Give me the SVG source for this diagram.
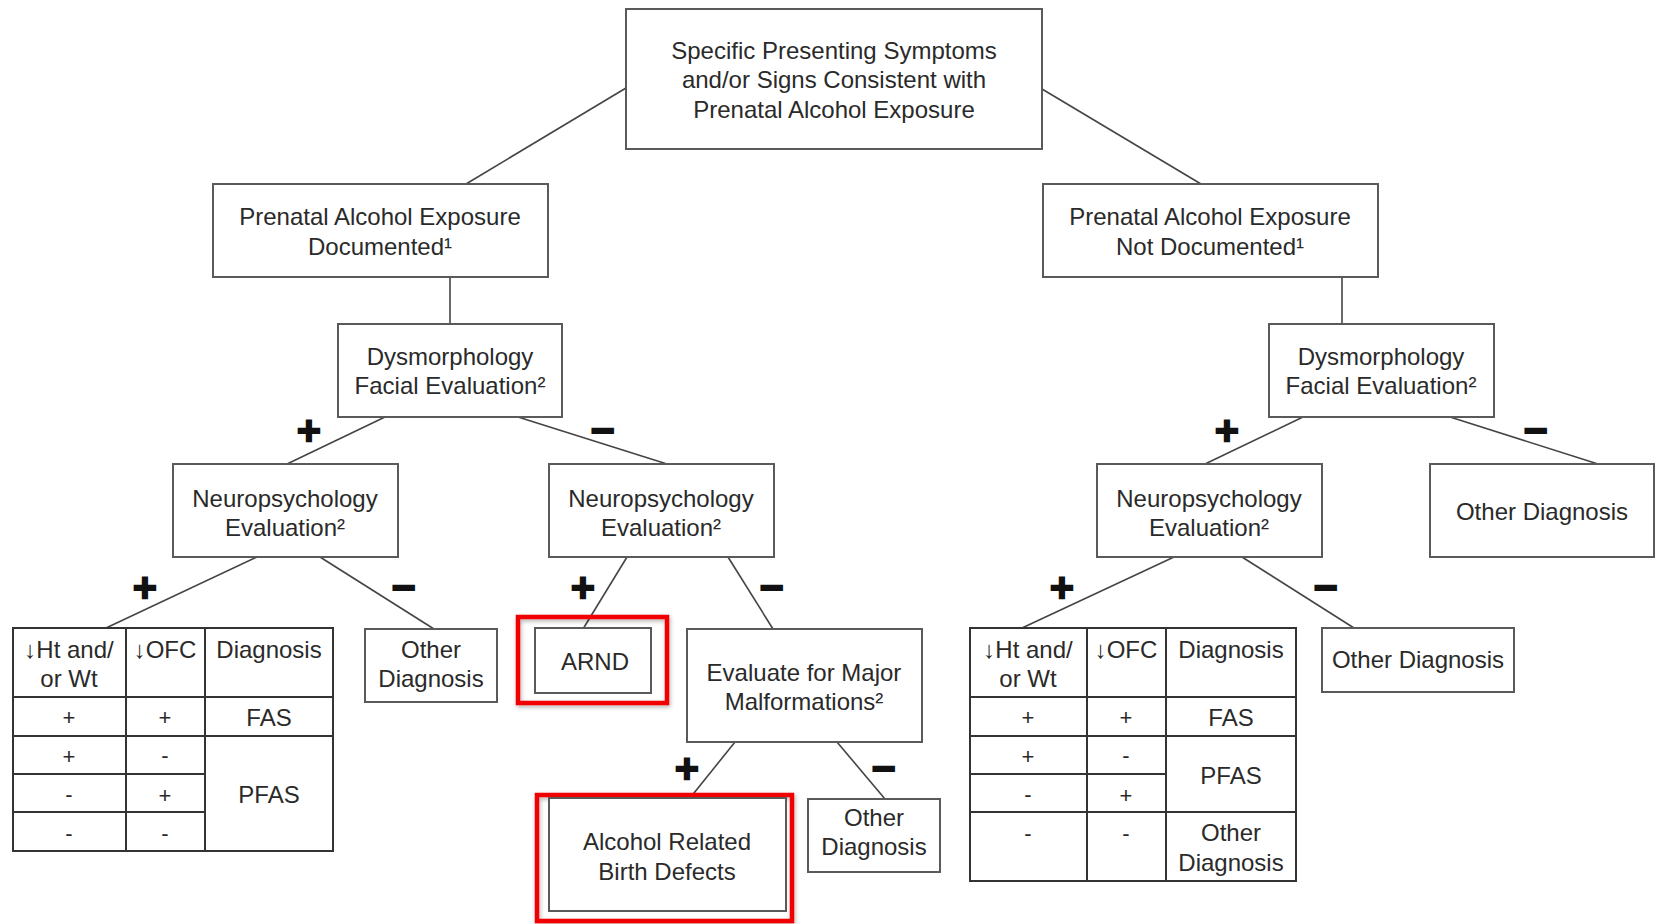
<svg xmlns="http://www.w3.org/2000/svg" width="1659" height="924" viewBox="0 0 1659 924">
  <defs>
    <style>
      .box { fill: #fff; stroke: #5a5a5a; stroke-width: 2; }
      .hl { fill: none; stroke: #f00000; stroke-width: 4.5; }
      .tbl { fill: none; stroke: #333; stroke-width: 2; }
      .t { font-family: "Liberation Sans", Arial, sans-serif; font-size: 24px; fill: #2a2a2a; text-anchor: middle; }
      .c { font-family: "Liberation Sans", Arial, sans-serif; font-size: 22px; fill: #2a2a2a; text-anchor: middle; }
      .sign { font-family: "DejaVu Sans", "Liberation Sans", sans-serif; font-weight: bold; font-size: 32px; fill: #111; stroke: #111; stroke-width: 2.5; text-anchor: middle; }
      .conn line { stroke: #444; stroke-width: 1.6; }
    </style>
    <filter id="shadow" x="-10%" y="-10%" width="120%" height="130%">
      <feDropShadow dx="1" dy="2" stdDeviation="2" flood-color="#000" flood-opacity="0.3"/>
    </filter>
  </defs>

  <rect width="1659" height="924" fill="#fff"/>

  <!-- connectors -->
  <g id="connectors" class="conn">
    <line x1="626" y1="88" x2="466" y2="184"/>
    <line x1="1042" y1="89" x2="1201" y2="184"/>
    <line x1="450" y1="277" x2="450" y2="324"/>
    <line x1="1342" y1="277" x2="1342" y2="324"/>
    <line x1="385" y1="417" x2="287" y2="464"/>
    <line x1="518" y1="417" x2="667" y2="464"/>
    <line x1="1303" y1="417" x2="1205" y2="464"/>
    <line x1="1450" y1="417" x2="1598" y2="464"/>
    <line x1="257" y1="557" x2="106" y2="628"/>
    <line x1="320" y1="557" x2="434" y2="629"/>
    <line x1="627" y1="557" x2="583" y2="629"/>
    <line x1="728" y1="557" x2="773" y2="629"/>
    <line x1="735" y1="742" x2="690" y2="798"/>
    <line x1="837" y1="742" x2="885" y2="799"/>
    <line x1="1174" y1="557" x2="1022" y2="628"/>
    <line x1="1242" y1="557" x2="1354" y2="628"/>
  </g>

  <!-- branch signs -->
  <g id="signs">
    <text class="sign" x="309" y="441">+</text>
    <text class="sign" x="603" y="441">−</text>
    <text class="sign" x="1227" y="441">+</text>
    <text class="sign" x="1536" y="441">−</text>
    <text class="sign" x="145" y="598">+</text>
    <text class="sign" x="404" y="598">−</text>
    <text class="sign" x="583" y="598">+</text>
    <text class="sign" x="772" y="598">−</text>
    <text class="sign" x="687" y="779">+</text>
    <text class="sign" x="884" y="779">−</text>
    <text class="sign" x="1062" y="598">+</text>
    <text class="sign" x="1326" y="598">−</text>
  </g>

  <g id="start">
    <rect class="box" x="626" y="9" width="416" height="140"/>
    <text class="t" x="834" y="59">Specific Presenting Symptoms</text>
    <text class="t" x="834" y="88">and/or Signs Consistent with</text>
    <text class="t" x="834" y="118">Prenatal Alcohol Exposure</text>
  </g>

  <g id="pae-documented">
    <rect class="box" x="213" y="184" width="335" height="93"/>
    <text class="t" x="380" y="225">Prenatal Alcohol Exposure</text>
    <text class="t" x="380" y="255">Documented¹</text>
  </g>

  <g id="pae-not-documented">
    <rect class="box" x="1043" y="184" width="335" height="93"/>
    <text class="t" x="1210" y="225">Prenatal Alcohol Exposure</text>
    <text class="t" x="1210" y="255">Not Documented¹</text>
  </g>

  <g id="dysmorph-left">
    <rect class="box" x="338" y="324" width="224" height="93"/>
    <text class="t" x="450" y="365">Dysmorphology</text>
    <text class="t" x="450" y="394">Facial Evaluation²</text>
  </g>

  <g id="dysmorph-right">
    <rect class="box" x="1269" y="324" width="225" height="93"/>
    <text class="t" x="1381" y="365">Dysmorphology</text>
    <text class="t" x="1381" y="394">Facial Evaluation²</text>
  </g>

  <g id="neuro-left">
    <rect class="box" x="173" y="464" width="225" height="93"/>
    <text class="t" x="285" y="507">Neuropsychology</text>
    <text class="t" x="285" y="536">Evaluation²</text>
  </g>

  <g id="neuro-mid">
    <rect class="box" x="549" y="464" width="225" height="93"/>
    <text class="t" x="661" y="507">Neuropsychology</text>
    <text class="t" x="661" y="536">Evaluation²</text>
  </g>

  <g id="neuro-right">
    <rect class="box" x="1097" y="464" width="225" height="93"/>
    <text class="t" x="1209" y="507">Neuropsychology</text>
    <text class="t" x="1209" y="536">Evaluation²</text>
  </g>

  <g id="other-top-right">
    <rect class="box" x="1430" y="464" width="224" height="93"/>
    <text class="t" x="1542" y="520">Other Diagnosis</text>
  </g>

  <!-- growth / OFC table, documented branch -->
  <g id="table-left">
    <rect class="tbl" x="13" y="628" width="320" height="223"/>
    <line class="tbl" x1="126" y1="628" x2="126" y2="851"/>
    <line class="tbl" x1="205" y1="628" x2="205" y2="851"/>
    <line class="tbl" x1="13" y1="697" x2="333" y2="697"/>
    <line class="tbl" x1="13" y1="736" x2="333" y2="736"/>
    <line class="tbl" x1="13" y1="774" x2="205" y2="774"/>
    <line class="tbl" x1="13" y1="812" x2="205" y2="812"/>
    <text class="t" x="69" y="658">↓Ht and/</text>
    <text class="t" x="69" y="687">or Wt</text>
    <text class="t" x="165" y="658">↓OFC</text>
    <text class="t" x="269" y="658">Diagnosis</text>
    <text class="c" x="69" y="725">+</text>
    <text class="c" x="165" y="725">+</text>
    <text class="t" x="269" y="726">FAS</text>
    <text class="c" x="69" y="764">+</text>
    <text class="c" x="165" y="763">-</text>
    <text class="c" x="69" y="802">-</text>
    <text class="c" x="165" y="803">+</text>
    <text class="c" x="69" y="841">-</text>
    <text class="c" x="165" y="841">-</text>
    <text class="t" x="269" y="803">PFAS</text>
  </g>

  <g id="other-left">
    <rect class="box" x="365" y="629" width="132" height="73"/>
    <text class="t" x="431" y="658">Other</text>
    <text class="t" x="431" y="687">Diagnosis</text>
  </g>

  <g id="arnd">
    <rect class="hl" x="518" y="617" width="149" height="86" filter="url(#shadow)"/>
    <rect class="box" x="535" y="628" width="116" height="65"/>
    <text class="t" x="595" y="670">ARND</text>
  </g>

  <g id="evaluate">
    <rect class="box" x="687" y="629" width="235" height="113"/>
    <text class="t" x="804" y="681">Evaluate for Major</text>
    <text class="t" x="804" y="710">Malformations²</text>
  </g>

  <g id="arbd">
    <rect class="hl" x="537" y="795" width="255" height="126" filter="url(#shadow)"/>
    <rect class="box" x="549" y="798" width="237" height="113" stroke-width="2.5"/>
    <text class="t" x="667" y="850">Alcohol Related</text>
    <text class="t" x="667" y="880">Birth Defects</text>
  </g>

  <g id="other-mid">
    <rect class="box" x="808" y="799" width="132" height="73"/>
    <text class="t" x="874" y="826">Other</text>
    <text class="t" x="874" y="855">Diagnosis</text>
  </g>

  <!-- growth / OFC table, not-documented branch -->
  <g id="table-right">
    <rect class="tbl" x="970" y="628" width="326" height="253"/>
    <line class="tbl" x1="1087" y1="628" x2="1087" y2="881"/>
    <line class="tbl" x1="1166" y1="628" x2="1166" y2="881"/>
    <line class="tbl" x1="970" y1="697" x2="1296" y2="697"/>
    <line class="tbl" x1="970" y1="736" x2="1296" y2="736"/>
    <line class="tbl" x1="970" y1="774" x2="1166" y2="774"/>
    <line class="tbl" x1="970" y1="812" x2="1296" y2="812"/>
    <text class="t" x="1028" y="658">↓Ht and/</text>
    <text class="t" x="1028" y="687">or Wt</text>
    <text class="t" x="1126" y="658">↓OFC</text>
    <text class="t" x="1231" y="658">Diagnosis</text>
    <text class="c" x="1028" y="725">+</text>
    <text class="c" x="1126" y="725">+</text>
    <text class="t" x="1231" y="726">FAS</text>
    <text class="c" x="1028" y="764">+</text>
    <text class="c" x="1126" y="763">-</text>
    <text class="c" x="1028" y="802">-</text>
    <text class="c" x="1126" y="803">+</text>
    <text class="t" x="1231" y="784">PFAS</text>
    <text class="c" x="1028" y="841">-</text>
    <text class="c" x="1126" y="841">-</text>
    <text class="t" x="1231" y="841">Other</text>
    <text class="t" x="1231" y="871">Diagnosis</text>
  </g>

  <g id="other-right">
    <rect class="box" x="1322" y="628" width="192" height="64"/>
    <text class="t" x="1418" y="668">Other Diagnosis</text>
  </g>
</svg>
